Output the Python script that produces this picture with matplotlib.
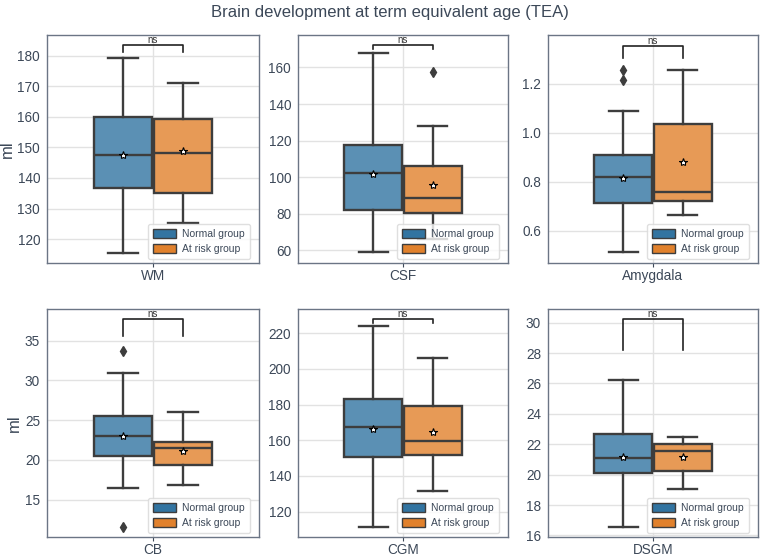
import numpy as np
import matplotlib
matplotlib.use('Agg')
import matplotlib.pyplot as plt
from matplotlib.colors import to_rgb

plt.rcParams['font.family'] = ['Liberation Sans', 'DejaVu Sans']

regions = ['WM', 'CSF', 'Amygdala', 'CB', 'CGM', 'DSGM']
groups = ['Normal group', 'At risk group']

# box stats
normal_whislo = [115.5, 58.7, 0.513, 16.4, 111.6, 16.59]
normal_q1 = [136.7, 82.0, 0.716, 20.5, 150.6, 20.11]
normal_med = [147.5, 102.2, 0.821, 22.95, 167.2, 21.12]
normal_q3 = [160.0, 117.6, 0.909, 25.5, 183.2, 22.69]
normal_whishi = [179.3, 167.8, 1.089, 30.9, 223.9, 26.26]
normal_mean = [147.6, 101.7, 0.818, 22.95, 166.3, 21.18]
normal_fliers = [[], [], [1.218, 1.258], [33.66, 11.6], [], []]

risk_whislo = [125.4, 66.0, 0.667, 16.9, 131.8, 19.04]
risk_q1 = [135.2, 80.5, 0.723, 19.4, 151.5, 20.26]
risk_med = [148.0, 88.7, 0.760, 21.44, 159.7, 21.53]
risk_q3 = [159.2, 105.8, 1.036, 22.24, 179.1, 22.03]
risk_whishi = [171.0, 127.8, 1.258, 26.0, 206.0, 22.45]
risk_mean = [148.8, 95.6, 0.880, 21.1, 164.4, 21.14]
risk_fliers = [[], [157.3], [], [], [], []]

# significance brackets (top, bottom of legs)
bracket_top = [183.5, 172.4, 1.357, 37.7, 228.0, 30.24]
bracket_leg = [181.1, 170.2, 1.306, 35.6, 225.8, 28.18]
sig_text = ['ns', 'ns', 'ns', 'ns', 'ns', 'ns']

ylims = [(112.2, 186.7), (52.9, 177.8), (0.469, 1.40), (10.3, 38.97), (105.8, 233.6), (15.9, 30.9)]
yticks = [np.arange(120, 181, 10), np.arange(60, 161, 20), [0.6, 0.8, 1.0, 1.2],
          np.arange(15, 36, 5), np.arange(120, 221, 20), np.arange(16, 31, 2)]
ytick_fmt = ['%d', '%d', '%.1f', '%d', '%d', '%d']

colors = ['#3274a1', '#e1812c']
# box fill = colour at 0.8 over white
fills = [tuple(0.8 * np.array(to_rgb(c)) + 0.2) for c in colors]
text_col = '#3c4858'
spine_col = '#6b7585'
line_col = '#3d3d3d'

fig = plt.figure(figsize=(7.6, 5.57), dpi=100)
lefts = [47, 298, 548]
widths = [212, 210, 210]
tops = [35, 309]
H = 228

for i, reg in enumerate(regions):
    r, c = divmod(i, 3)
    ax = fig.add_axes([lefts[c] / 760, 1 - (tops[r] + H) / 557, widths[c] / 760, H / 557])
    stats = [
        dict(whislo=normal_whislo[i], q1=normal_q1[i], med=normal_med[i], q3=normal_q3[i],
             whishi=normal_whishi[i], mean=normal_mean[i], fliers=normal_fliers[i]),
        dict(whislo=risk_whislo[i], q1=risk_q1[i], med=risk_med[i], q3=risk_q3[i],
             whishi=risk_whishi[i], mean=risk_mean[i], fliers=risk_fliers[i]),
    ]
    bp = ax.bxp(stats, positions=[-0.2, 0.2], widths=0.39, patch_artist=True, showmeans=True,
                boxprops=dict(edgecolor=line_col, linewidth=1.7),
                whiskerprops=dict(color=line_col, linewidth=1.7),
                capprops=dict(color=line_col, linewidth=1.7),
                medianprops=dict(color=line_col, linewidth=1.7),
                meanprops=dict(marker='*', markerfacecolor='white', markeredgecolor='black',
                               markersize=6, markeredgewidth=0.8),
                flierprops=dict(marker='d', markerfacecolor=line_col, markeredgecolor=line_col,
                                markersize=5))
    for patch, col in zip(bp['boxes'], fills):
        patch.set_facecolor(col)
        patch.set_edgecolor(line_col)
    for ln in bp['fliers']:
        ln.set_zorder(3)

    # bracket
    ax.plot([-0.2, -0.2, 0.2, 0.2], [bracket_leg[i], bracket_top[i], bracket_top[i], bracket_leg[i]],
            color='#222222', lw=1.2)
    ax.text(0, bracket_top[i], sig_text[i], ha='center', va='bottom', fontsize=7, color='#333333')

    ax.set_xlim(-0.707, 0.707)
    ax.set_ylim(*ylims[i])
    ax.set_yticks(yticks[i])
    ax.set_yticklabels([ytick_fmt[i] % v for v in yticks[i]])
    ax.set_xticks([0])
    ax.set_xticklabels([reg])
    ax.tick_params(axis='both', labelsize=9.8, colors=text_col, length=3, width=0.8, pad=1)
    ax.tick_params(axis='y', length=0, pad=5)
    ax.grid(True, color='#e2e2e2', lw=1)
    ax.set_axisbelow(True)
    for s in ax.spines.values():
        s.set_color(spine_col)
        s.set_linewidth(1)
    if c == 0:
        ax.set_ylabel('ml', fontsize=12, color=text_col, labelpad=2)

    handles = [plt.Rectangle((0, 0), 1, 1, facecolor=col, edgecolor=line_col, lw=1) for col in colors]
    leg = ax.legend(handles, groups, loc='lower right', bbox_to_anchor=(0.958, 0.017),
                    borderaxespad=0, fontsize=7.5, frameon=True,
                    handlelength=2.2, handleheight=0.9, borderpad=0.5, labelspacing=0.45,
                    handletextpad=0.6, fancybox=True)
    leg.get_frame().set_edgecolor('#d8d8d8')
    for t in leg.get_texts():
        t.set_color(text_col)

fig.suptitle('Brain development at term equivalent age (TEA)', fontsize=12, color=text_col,
             x=0.513, y=0.977, va='center')

plt.savefig('out.png', dpi=100)
